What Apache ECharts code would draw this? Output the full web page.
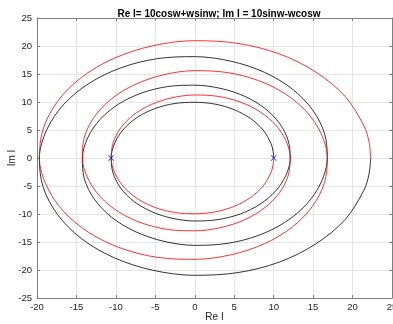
<!DOCTYPE html>
<html><head><meta charset="utf-8">
<script src="https://cdn.jsdelivr.net/npm/echarts/dist/echarts.min.js"></script>
<style>html,body{margin:0;padding:0;background:#fff}#c{width:393px;height:324px}</style>
</head><body><div id="c"></div>
<script>
const titleText = 'Re I= 10cosw+wsinw; Im I = 10sinw-wcosw';
const xName = 'Re I';
const yName = 'Im I';
const xTicks = [-20, -15, -10, -5, 0, 5, 10, 15, 20, 25];
const yTicks = [-25, -20, -15, -10, -5, 0, 5, 10, 15, 20, 25];

// red branch
const redCurve = [
  [10, 0], [9.91, -1.31], [9.66, -2.59], [8.66, -5.0], [7.06, -7.06], [4.99, -8.63], [2.58, -9.62],
  [0, -9.95], [-2.60, -9.72], [-5.09, -8.81], [-7.27, -7.27], [-8.99, -5.19], [-10.13, -2.71],
  [-10.6, 0], [-10.34, 2.77], [-9.37, 5.41], [-7.73, 7.73], [-5.52, 9.55], [-2.88, 10.76],
  [0, 11.25], [2.95, 11.0], [5.77, 9.99], [8.26, 8.26], [10.24, 5.91], [11.55, 3.10],
  [12.1, 0], [11.83, -3.17], [10.74, -6.2], [8.87, -8.87], [6.35, -11.0], [3.33, -12.41],
  [0, -13.0], [-3.42, -12.76], [-6.71, -11.62], [-9.64, -9.64], [-11.98, -6.92], [-13.56, -3.63],
  [-14.25, 0], [-13.99, 3.75], [-12.73, 7.35], [-10.56, 10.56], [-7.58, 13.12], [-3.98, 14.86],
  [0, 15.6], [4.09, 15.26], [8.0, 13.86], [11.46, 11.46], [14.20, 8.2], [16.03, 4.30],
  [16.8, 0], [16.44, -4.40], [14.92, -8.62], [12.34, -12.34], [8.84, -15.30], [4.63, -17.27],
  [0, -18.1], [-4.75, -17.74], [-9.32, -16.13], [-13.36, -13.36], [-16.60, -9.59], [-18.77, -5.03],
  [-19.7, 0], [-19.23, 5.15], [-17.42, 10.06], [-14.38, 14.38], [-10.27, 17.78], [-5.37, 20.03],
  [0, 20.95], [5.48, 20.46], [10.73, 18.58], [15.34, 15.34], [19.05, 11.0], [21.44, 5.75],
  [22.08, 2.91], [22.3, 0]
];
// black branch
const blackCurve = [
  [10, 0], [9.91, 1.31], [9.66, 2.59], [8.66, 5.0], [7.06, 7.06], [4.99, 8.63], [2.58, 9.62],
  [0, 9.95], [-2.60, 9.72], [-5.09, 8.81], [-7.27, 7.27], [-8.99, 5.19], [-10.13, 2.71],
  [-10.6, 0], [-10.34, -2.77], [-9.37, -5.41], [-7.73, -7.73], [-5.52, -9.55], [-2.88, -10.76],
  [0, -11.25], [2.95, -11.0], [5.77, -9.99], [8.26, -8.26], [10.24, -5.91], [11.55, -3.10],
  [12.1, 0], [11.83, 3.17], [10.74, 6.2], [8.87, 8.87], [6.35, 11.0], [3.33, 12.41],
  [0, 13.0], [-3.42, 12.76], [-6.71, 11.62], [-9.64, 9.64], [-11.98, 6.92], [-13.56, 3.63],
  [-14.25, 0], [-13.99, -3.75], [-12.73, -7.35], [-10.56, -10.56], [-7.58, -13.12], [-3.98, -14.86],
  [0, -15.6], [4.09, -15.26], [8.0, -13.86], [11.46, -11.46], [14.20, -8.2], [16.03, -4.30],
  [16.8, 0], [16.44, 4.40], [14.92, 8.62], [12.34, 12.34], [8.84, 15.30], [4.63, 17.27],
  [0, 18.1], [-4.75, 17.74], [-9.32, 16.13], [-13.36, 13.36], [-16.60, 9.59], [-18.77, 5.03],
  [-19.7, 0], [-19.23, -5.15], [-17.42, -10.06], [-14.38, -14.38], [-10.27, -17.78], [-5.37, -20.03],
  [0, -20.95], [5.48, -20.46], [10.73, -18.58], [15.34, -15.34], [19.05, -11.0], [21.44, -5.75],
  [22.08, -2.91], [22.3, 0]
];
const markers = [[10, 0], [-10.6, 0]];

const font = 'Liberation Sans, Arial, Helvetica, sans-serif';
const axisCol = '#808080';
const txtCol = '#262626';
const gridCol = '#e6e6e6';
const xMin = xTicks[0], xMax = xTicks[xTicks.length - 1];
const yMin = yTicks[0], yMax = yTicks[yTicks.length - 1];
const crossPath = 'path://M0,1 L1,0 L5,4 L9,0 L10,1 L6,5 L10,9 L9,10 L5,6 L1,10 L0,9 L4,5 Z';

const chart = echarts.init(document.getElementById('c'), null, {renderer: 'canvas'});
chart.setOption({
  animation: false,
  backgroundColor: '#fff',
  title: {
    text: titleText, left: 214, top: 4, textAlign: 'center',
    textStyle: {fontFamily: font, fontSize: 10, fontWeight: 'bold', color: '#000'}
  },
  grid: {left: 37, right: 1, top: 18, bottom: 26, containLabel: false, outerBoundsMode: 'none'},
  xAxis: [{
    type: 'value', min: xMin, max: xMax, interval: 5,
    name: xName, nameLocation: 'middle', nameGap: 14, nameMoveOverlap: false,
    nameTextStyle: {fontFamily: font, fontSize: 10, color: txtCol},
    axisLine: {show: true, onZero: false, lineStyle: {color: axisCol, width: 1}},
    axisTick: {show: true, inside: true, length: 3, lineStyle: {color: axisCol}},
    axisLabel: {fontFamily: font, fontSize: 9.5, color: txtCol, margin: 4, hideOverlap: false},
    splitLine: {show: true, lineStyle: {color: gridCol, width: 1}}
  }, {
    type: 'value', position: 'top', min: xMin, max: xMax, interval: 5,
    axisLine: {show: true, onZero: false, lineStyle: {color: axisCol, width: 1}},
    axisTick: {show: true, inside: true, length: 3, lineStyle: {color: axisCol}},
    axisLabel: {show: false}, splitLine: {show: false}
  }],
  yAxis: [{
    type: 'value', min: yMin, max: yMax, interval: 5,
    name: yName, nameLocation: 'middle', nameGap: 20, nameRotate: 90, nameMoveOverlap: false,
    nameTextStyle: {fontFamily: font, fontSize: 10, color: txtCol},
    axisLine: {show: true, onZero: false, lineStyle: {color: axisCol, width: 1}},
    axisTick: {show: true, inside: true, length: 3, lineStyle: {color: axisCol}},
    axisLabel: {fontFamily: font, fontSize: 9.5, color: txtCol, margin: 5},
    splitLine: {show: true, lineStyle: {color: gridCol, width: 1}}
  }, {
    type: 'value', position: 'right', min: yMin, max: yMax, interval: 5,
    axisLine: {show: true, onZero: false, lineStyle: {color: axisCol, width: 1}},
    axisTick: {show: true, inside: true, length: 3, lineStyle: {color: axisCol}},
    axisLabel: {show: false}, splitLine: {show: false}
  }],
  series: [{
    type: 'line', data: redCurve, smooth: 0.33, showSymbol: false,
    lineStyle: {color: '#ff0000', width: 0.8}, z: 3
  }, {
    type: 'line', data: blackCurve, smooth: 0.33, showSymbol: false,
    lineStyle: {color: '#000000', width: 0.8}, z: 2
  }, {
    type: 'scatter', data: markers, symbol: crossPath, symbolSize: 6,
    itemStyle: {color: '#0000ff'}, z: 5
  }]
});
</script></body></html>
